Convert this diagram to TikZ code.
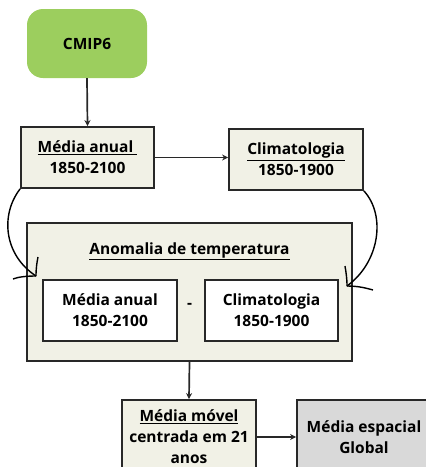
\documentclass[tikz,border=0pt]{standalone}
\usepackage{fontspec}
\setmainfont{Open Sans}
\usetikzlibrary{arrows.meta}
\definecolor{boxfill}{RGB}{241,241,230}
\definecolor{cmipgreen}{RGB}{156,206,94}
\definecolor{grayfill}{RGB}{217,217,217}
\definecolor{edge}{RGB}{40,40,40}
\begin{document}
\begin{tikzpicture}[x=1pt,y=-1pt,
  every node/.style={font=\fontsize{15.5}{21}\selectfont\bfseries, align=center, inner sep=0pt},
  box/.style={draw=edge, line width=1.8pt, fill=boxfill, minimum width=133pt, minimum height=61pt},
  whitebox/.style={box, fill=white},
  graybox/.style={box, fill=grayfill},
  arr/.style={draw=edge, line width=1.7pt, -{Stealth[length=6pt,width=6pt]}},
  curve/.style={draw=black, line width=1.4pt}
]
\useasboundingbox (0,0) rectangle (426,467);
\clip (0,0) rectangle (426,467);
\node[fill=cmipgreen, rounded corners=16pt, minimum width=120pt, minimum height=69pt] (cmip) at (87,43.5) {CMIP6};
\node[box] (ma) at (87.5,157.5) {\underline{Média anual\ }\\1850-2100};
\node[box, minimum width=134pt] (cl) at (296,159.5) {\underline{Climatologia}\\1850-1900};
\node[box, minimum width=325pt, minimum height=138pt] (an) at (189.5,292) {};
\node (antitle) at (189.5,251) {\underline{Anomalia de temperatura}};
\node[whitebox, minimum width=134pt] (ima) at (110,310.5) {Média anual\\1850-2100};
\node[whitebox] (icl) at (271.5,310.5) {Climatologia\\1850-1900};
\node (minus) at (189.5,306) {-};
\node[box, minimum width=134pt, minimum height=74pt] (mm) at (189,437) {\underline{Média móvel}\\centrada em 21\\anos};
\node[graybox, minimum width=134pt, minimum height=74pt] (me) at (364,437) {Média espacial\\Global};
\draw[arr] (cmip.south) -- (ma.north);
\draw[arr] (ma.east) -- (ma.east -| cl.west);
\draw[arr] (an.south) -- (mm.north);
\draw[arr] (mm.east) -- (me.west);
% curved connectors
\coordinate (lt) at (36,276);
\coordinate (rt) at (347,286);
\draw[curve] (ma.south west) .. controls (0,215) and (4,255) .. (lt);
\draw[curve] (lt) .. controls (26,276) and (18,277) .. (13,279);
\draw[curve] (lt) .. controls (36,268) and (37,262) .. (38,257);
\draw[curve] (cl.south east) .. controls (386,215) and (380,262) .. (rt);
\draw[curve] (rt) .. controls (358,286) and (366,288) .. (373,290);
\draw[curve] (rt) .. controls (347,278) and (346,272) .. (345,266);
\end{tikzpicture}
\end{document}
